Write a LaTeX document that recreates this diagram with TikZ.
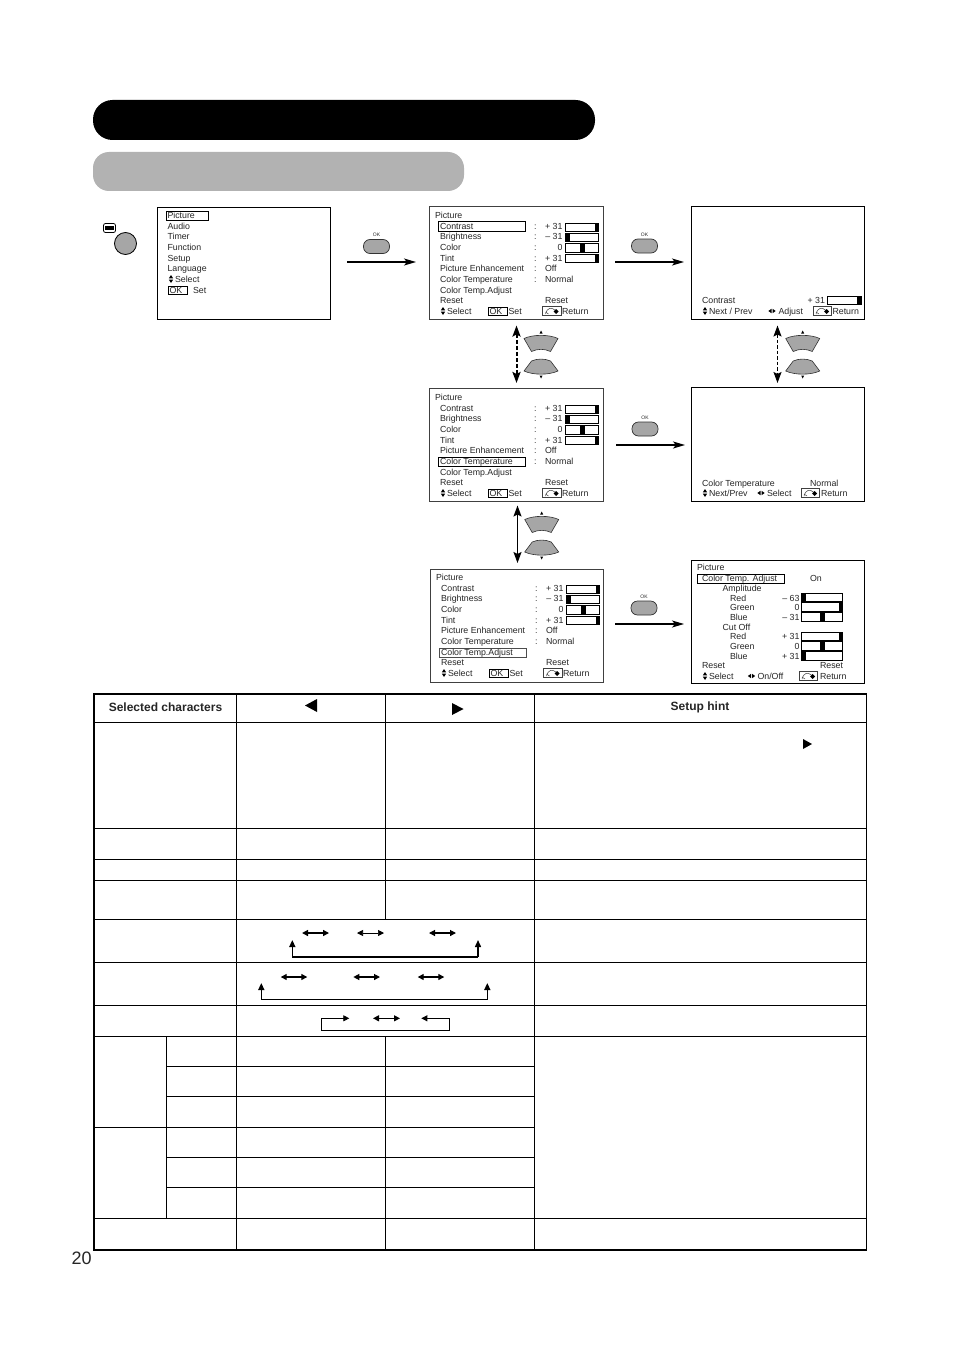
\documentclass[tikz,border=0pt]{standalone}
\usepackage{fontspec}
\setmainfont{Liberation Sans}
\usetikzlibrary{arrows.meta}
\definecolor{ink}{gray}{0.15}
\definecolor{btn}{gray}{0.65}
\newcount\tc
\tikzset{
  txt/.style={inset,font=\fontsize{8.8}{10}\selectfont,text=ink,anchor=base west},
  inset/.style={inner sep=0pt,outer sep=0pt},
  screen/.style={draw=#1,line width=1pt,fill=white,inset,anchor=north west},
  okbtn/.style={draw=black!80,line width=0.7pt,fill=btn,rounded corners=6.5pt,minimum width=26pt,minimum height=14pt,inset},
  oklabel/.style={inset,font=\fontsize{5}{6}\selectfont,text=ink},
  longarrow/.style={line width=1.5pt,-{Stealth[length=12pt,width=7pt,inset=3pt]}},
  updown/.style={{Stealth[length=11pt,width=8pt,inset=2pt]}-{Stealth[length=11pt,width=8pt,inset=2pt]}},
  dbl/.style={{Triangle[length=6pt,width=6pt]}-{Triangle[length=6pt,width=6pt]},line width=#1},
  hl/.style={draw=black,line width=0.9pt},
  barbox/.style={draw=black,line width=0.8pt,fill=white},
  grid/.style={line width=0.9pt},
  hdr/.style={inset,font=\fontsize{12}{14}\bfseries\selectfont,text=ink},
  uptip/.style={-{Triangle[length=7pt,width=6pt]},line width=1.5pt}
}
\newcommand{\T}[4][]{\global\advance\tc by 1 \node[txt,#1] (t\the\tc) at (#2,{#3+3.1}) {#4};}
\newcommand{\TR}[3]{\global\advance\tc by 1 \node[txt,anchor=base east] (t\the\tc) at (#1,{#2+3.1}) {#3};}
\newcommand{\Sbar}[4]{% x1 x2 yc mode
  \draw[barbox] (#1,{#3-4.3}) rectangle (#2,{#3+4.3});
  \ifcase#4\relax
    \fill[black] (#1,{#3-4.3}) rectangle ({#1+4},{#3+4.3});
  \or
    \fill[black] ({(#1+#2)/2-2.5},{#3-4.3}) rectangle ({(#1+#2)/2+2.5},{#3+4.3});
  \or
    \fill[black] ({#2-4},{#3-4.3}) rectangle (#2,{#3+4.3});
  \fi}
\newcommand{\UD}[2]{%
  \fill[black] ({#1-2.2},{#2-0.6}) -- (#1,{#2-4}) -- ({#1+2.2},{#2-0.6}) -- cycle;
  \fill[black] ({#1-2.2},{#2+0.6}) -- (#1,{#2+4}) -- ({#1+2.2},{#2+0.6}) -- cycle;}
\newcommand{\LR}[2]{%
  \fill[black] ({#1-0.5},{#2-2.2}) -- ({#1-3.7},#2) -- ({#1-0.5},{#2+2.2}) -- cycle;
  \fill[black] ({#1+0.5},{#2-2.2}) -- ({#1+3.7},#2) -- ({#1+0.5},{#2+2.2}) -- cycle;}
\newcommand{\RET}[2]{% x1 yc
  \draw[black!75,line width=0.7pt] (#1,{#2-4.4}) rectangle ({#1+18.5},{#2+4.4});
  \draw[black!75,line width=0.5pt] ({#1+3},{#2+3}) .. controls ({#1+5},{#2-4}) and ({#1+9},{#2-4}) .. ({#1+13},{#2-0.5});
  \draw[black!75,line width=0.5pt] ({#1+3},{#2+1}) -- ({#1+6},{#2+3});
  \fill[black] ({#1+13.5},{#2-2}) -- ({#1+16},{#2+0.5}) -- ({#1+13.5},{#2+3}) -- ({#1+11},{#2+0.5}) -- cycle;}
\newcommand{\OKB}[3]{% x1 x2 yc
  \draw[black,line width=0.9pt] (#1,{#3-4}) rectangle (#2,{#3+4});
  \T{{#1+1.5}}{#3}{OK}}
\newcommand{\PicMenu}{%
  \T{435}{215}{Picture}
  \T{440}{226}{Contrast}
  \T{440}{236.5}{Brightness}
  \T{440}{247}{Color}
  \T{440}{258}{Tint}
  \T{440}{268}{Picture Enhancement}
  \T{440}{279}{Color Temperature}
  \T{440}{290}{Color Temp.Adjust}
  \T{440}{300}{Reset}
  \T{534}{226}{:}\T{534}{236.5}{:}\T{534}{247}{:}\T{534}{258}{:}\T{534}{268}{:}\T{534}{279}{:}
  \TR{562.5}{226}{+ 31}\TR{562.5}{236.5}{-- 31}\TR{562.5}{247}{0}\TR{562.5}{258}{+ 31}
  \T{545}{268}{Off}\T{545}{279}{Normal}\T{545}{300}{Reset}
  \Sbar{565.5}{598.5}{227.5}{2}
  \Sbar{565.5}{598.5}{237.5}{0}
  \Sbar{565.5}{598.5}{248}{1}
  \Sbar{565.5}{598.5}{258.5}{2}
  \UD{443}{311}\T{447}{311}{Select}
  \OKB{488}{507.5}{311}\T{508.5}{311}{Set}
  \RET{542.5}{311}\T{562}{311}{Return}}
\newcommand{\Pad}[2]{%
  \begin{scope}[shift={(#1,#2)}]
    \draw[black!80,line width=0.6pt,fill=btn] (-17,338.5) .. controls (-8,334.3) and (8,334.3) .. (17,338.5) -- (9.5,351.5) .. controls (3.5,348.6) and (-3.5,348.6) .. (-9.5,351.5) -- cycle;
    \draw[black!80,line width=0.6pt,fill=btn] (-9.5,361) .. controls (-3.5,358.4) and (3.5,358.4) .. (9.5,361) -- (17,371) .. controls (8,375.2) and (-8,375.2) .. (-17,371) -- cycle;
    \fill[black] (-1.5,333.5) -- (0,330.5) -- (1.5,333.5) -- cycle;
    \fill[black] (-1.5,375.5) -- (0,378.5) -- (1.5,375.5) -- cycle;
  \end{scope}}
\begin{document}
\begin{tikzpicture}[x=1pt,y=-1pt]
\useasboundingbox (0,0) rectangle (954,1351);
\fill[white] (0,0) rectangle (954,1351);
% title bars
\node[fill=black,rounded corners=19.5pt,minimum width=502pt,minimum height=40pt,inset] (titlebar) at (344,120) {};
\node[fill=black!30,rounded corners=16pt,minimum width=371pt,minimum height=39pt,inset] (subbar) at (278.5,171.5) {};
% remote
\node[draw=black,line width=0.8pt,fill=btn,circle,minimum size=22pt,inset] (menubtn) at (125.5,243.5) {};
\node[draw=black,line width=0.8pt,rounded corners=2pt,minimum width=12pt,minimum height=9pt,inset,fill=white] (menuicon) at (109.5,228) {};
\fill[black] (105.3,225.8) rectangle (113.7,230.2);
% main screens
\node[screen=black,minimum width=173pt,minimum height=112.5pt] (s1) at (157.5,207) {};
\node[draw=black,line width=0.8pt,inset,minimum width=42.5pt,minimum height=9pt] (s1hl) at (187.5,215.5) {};
\T{167.5}{215}{Picture}\T{167.5}{226}{Audio}\T{167.5}{236}{Timer}\T{167.5}{247}{Function}
\T{167.5}{258}{Setup}\T{167.5}{268}{Language}
\UD{171}{279}\T{175}{279}{Select}
\OKB{168}{187.5}{290}\T{193}{290}{Set}
% menu 1
\node[screen=black!75,minimum width=173.5pt,minimum height=113pt] (s2) at (429.5,206.5) {};
\node[hl,inset,minimum width=86.5pt,minimum height=10pt] (s2hl) at (482,226.5) {};
\PicMenu
% menu 2
\node[screen=black!75,minimum width=173.5pt,minimum height=112.5pt] (s3) at (429.5,388.5) {};
\node[hl,inset,minimum width=86.5pt,minimum height=8.5pt] (s3hl) at (482,461.7) {};
\begin{scope}[shift={(0,182)}]\PicMenu\end{scope}
% menu 3
\node[screen=black!75,minimum width=173pt,minimum height=113pt] (s4) at (430.5,569) {};
\node[draw=black!70,line width=0.6pt,inset,minimum width=87pt,minimum height=9pt] (s4hl) at (482.5,652.5) {};
\begin{scope}[shift={(1,362)}]\PicMenu\end{scope}
% right screen 1
\node[screen=black,minimum width=173pt,minimum height=113pt] (r1) at (691.5,206.5) {};
\T{702}{300}{Contrast}\TR{825}{300}{+ 31}\Sbar{827.5}{861}{300.5}{2}
\UD{705}{311}\T{709}{311}{Next / Prev}\LR{772}{311}\T{778.5}{311}{Adjust}
\RET{813}{311}\T{832.5}{311}{Return}
% right screen 2
\node[screen=black,minimum width=173pt,minimum height=113.5pt] (r2) at (691.5,387.5) {};
\T{702}{483}{Color Temperature}\T{810}{483}{Normal}
\UD{705}{493}\T{709}{493}{Next/Prev}\LR{761}{493}\T{767}{493}{Select}
\RET{801}{493}\T{821}{493}{Return}
% right screen 3
\node[screen=black,minimum width=173pt,minimum height=123pt] (r3) at (691.5,560.5) {};
\T{697}{567}{Picture}
\node[hl,inset,minimum width=87pt,minimum height=9pt] (r3hl) at (740.5,578.7) {};
\T{702}{578}{Color Temp. Adjust}\T{810}{578}{On}
\T{722.5}{588}{Amplitude}\T{730}{598}{Red}\T{730}{607}{Green}\T{730}{617}{Blue}
\T{722.5}{627}{Cut Off}\T{730}{636}{Red}\T{730}{646}{Green}\T{730}{656}{Blue}
\TR{799.5}{598}{-- 63}\TR{799.5}{607}{0}\TR{799.5}{617}{-- 31}
\TR{799.5}{636}{+ 31}\TR{799.5}{646}{0}\TR{799.5}{656}{+ 31}
\Sbar{801.5}{842.5}{597.5}{0}\Sbar{801.5}{842.5}{607}{2}\Sbar{801.5}{842.5}{617}{1}
\Sbar{801.5}{842.5}{636.5}{2}\Sbar{801.5}{842.5}{646}{1}\Sbar{801.5}{842.5}{656}{0}
\T{702}{665}{Reset}\T{820}{665}{Reset}
\UD{705}{676}\T{709}{676}{Select}\LR{751.5}{676}\T{757.5}{676}{On/Off}
\RET{799}{676}\T{820}{676}{Return}
% OK buttons and arrows
\node[okbtn] (ok1) at (376.5,246.5) {};\node[oklabel] (ok1l) at (376.5,235) {OK};
\node[okbtn] (ok2) at (644.5,246) {};\node[oklabel] (ok2l) at (644.5,235) {OK};
\node[okbtn] (ok3) at (645,429) {};\node[oklabel] (ok3l) at (645,418) {OK};
\node[okbtn] (ok4) at (644,608) {};\node[oklabel] (ok4l) at (644,597) {OK};
\coordinate (a1s) at (347,262);\coordinate (a1e) at (416,262);
\coordinate (a2s) at (615,262);\coordinate (a2e) at (684,262);
\coordinate (a3s) at (616,445);\coordinate (a3e) at (685,445);
\coordinate (a4s) at (615,624);\coordinate (a4e) at (684,624);
\draw[longarrow] (a1s) -- (a1e);
\draw[longarrow] (a2s) -- (a2e);
\draw[longarrow] (a3s) -- (a3e);
\draw[longarrow,line width=1.1pt] (a4s) -- (a4e);
% up/down arrows
\coordinate (u1t) at (516.5,325.5);\coordinate (u1b) at (516.5,383);
\coordinate (u2t) at (777.5,325.5);\coordinate (u2b) at (777.5,383);
\coordinate (u3t) at (517.5,505.5);\coordinate (u3b) at (517.5,563);
\draw[updown,line width=2pt,dash pattern=on 4pt off 2pt] (u1t) -- (u1b);
\draw[updown,line width=1.1pt,dash pattern=on 3.5pt off 2pt] (u2t) -- (u2b);
\draw[updown,line width=1.6pt] (u3t) -- (u3b);
\Pad{541}{0}\Pad{802.7}{0}\Pad{541.7}{181}
% table
\draw[grid] (236.5,694) -- (236.5,1250);
\draw[grid] (534.5,694) -- (534.5,1250);
\draw[grid] (385.5,694) -- (385.5,919.5);
\draw[grid] (385.5,1036.5) -- (385.5,1250);
\draw[grid] (166.5,1036.5) -- (166.5,1218.5);
\foreach \yy in {722.5,828.5,859.5,880.5,919.5,962.5,1005.5,1036.5,1218.5} \draw[grid] (94,\yy) -- (866.5,\yy);
\foreach \yy in {1066.5,1096.5,1157.5,1187.5} \draw[grid] (166.5,\yy) -- (534.5,\yy);
\draw[grid] (94,1127.5) -- (534.5,1127.5);
\draw[line width=1.8pt] (94,694) rectangle (866.5,1250);
\node[hdr] (h1) at (165.5,707) {Selected characters};
\node[hdr] (h4) at (700,707) {Setup hint};
\fill[black] (317,699) -- (305,705.5) -- (317,712) -- cycle;
\fill[black] (452,703) -- (463.5,709) -- (452,715) -- cycle;
\fill[black] (803,739) -- (812,744) -- (803,749) -- cycle;
% table arrows
\foreach \n/\xa/\xb/\yy/\lw in {p/302/329/933/1.4pt,q/357/384/933/0.7pt,r/429/456/933/1.2pt,s/280.7/307.3/977/1.2pt,t/353.3/380/977/1.2pt,u/417.7/444.3/977/1.2pt,v/373/400/1018.3/1.2pt}{
  \coordinate (\n a) at (\xa,\yy);\coordinate (\n b) at (\xb,\yy);
  \draw[dbl=\lw] (\n a) -- (\n b);}
\coordinate (b1l) at (292.3,957);\coordinate (b1r) at (478,957);
\coordinate (b1lt) at (292.3,940);\coordinate (b1rt) at (478,940);
\draw[uptip] (b1l) -- (b1lt);\draw[uptip] (b1r) -- (b1rt);
\draw[line width=1.5pt] (b1l) -- (b1r);
\coordinate (b2l) at (261.3,999.7);\coordinate (b2r) at (487.3,999.7);
\coordinate (b2lt) at (261.3,983);\coordinate (b2rt) at (487.3,983);
\draw[uptip] (b2l) -- (b2lt);\draw[uptip] (b2r) -- (b2rt);
\draw[line width=1.5pt] (b2l) -- (b2r);
\coordinate (b3a) at (349.3,1018.3);\coordinate (b3b) at (321.3,1018.3);
\coordinate (b3c) at (321.3,1030.7);\coordinate (b3d) at (449.3,1030.7);
\coordinate (b3e) at (449.3,1018.3);\coordinate (b3f) at (421.3,1018.3);
\draw[line width=0.8pt,{Triangle[length=6pt,width=6pt]}-] (b3a) -- (b3b);
\draw[line width=1.5pt] (b3b) -- (b3c) -- (b3d) -- (b3e);
\draw[line width=0.8pt,{Triangle[length=6pt,width=6pt]}-] (b3f) -- (b3e);
\node[inset,font=\fontsize{18}{20}\selectfont,text=ink,anchor=base west] (pageno) at (71.5,1264) {20};
\end{tikzpicture}
\end{document}
